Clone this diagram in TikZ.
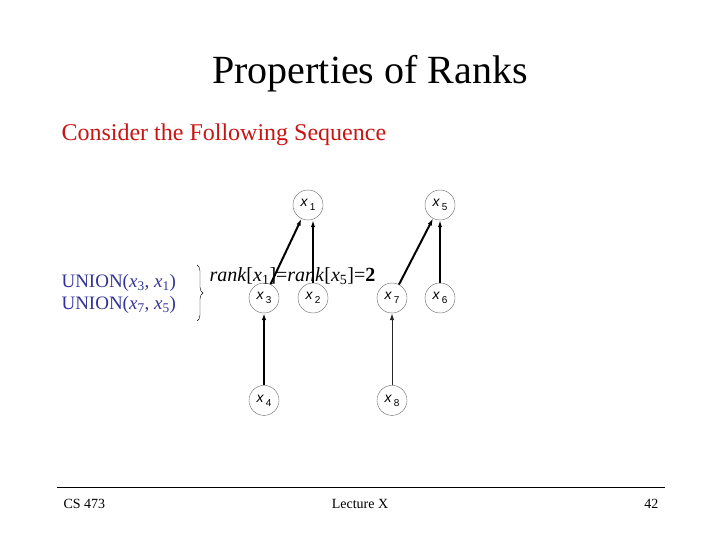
\documentclass[tikz,border=0pt]{standalone}
\usepackage{fontspec}
\setmainfont{Liberation Serif}
\newfontfamily\nodefont{Liberation Sans}
\usetikzlibrary{positioning,arrows.meta,decorations.pathreplacing}

\definecolor{slidered}{RGB}{200,20,20}
\definecolor{slideblue}{RGB}{51,51,153}

% label of a tree node: italic x, lowered index
\newcommand{\xlab}[1]{{\itshape x}\,\raisebox{-4pt}{\fontsize{10}{10}\selectfont #1}}
% x with subscript in running text
\newcommand{\xsub}[1]{\textit{x}\textsubscript{#1}}

\begin{document}
\begin{tikzpicture}[
  x=1pt, y=-1pt,
  >={Latex[length=7pt,width=4.5pt]},
  elem/.style={
    circle, draw=black!60, thin, minimum size=30pt, inner sep=0pt,
    font=\nodefont\fontsize{14}{14}\selectfont
  },
  link/.style={->, line width=2pt, black},
  thinlink/.style={->, line width=1pt, black!85},
  footer/.style={font=\fontsize{14}{14}\selectfont}
]
\useasboundingbox (0,0) rectangle (720,540);

% ---------- heading ----------
\node (title) at (370,74) {\fontsize{40}{40}\selectfont Properties of Ranks};
\node[anchor=west, text=slidered] (intro) at (58,135)
  {\fontsize{24}{24}\selectfont Consider the Following Sequence};

% ---------- sequence of unions ----------
\node[anchor=west, text=slideblue, align=left,
      font=\fontsize{19}{22}\selectfont] (ops) at (58,294)
  {UNION(\xsub{3}, \xsub{1})\\ UNION(\xsub{7}, \xsub{5})};
\draw[thin, decorate, decoration={brace, amplitude=6pt}]
  (197,265) coordinate (bt) -- (197,321) coordinate (bb);
\node[anchor=west] (rank) at (206,276)
  {\fontsize{20}{20}\selectfont \textit{rank}[\xsub{1}]=\textit{rank}[\xsub{5}]=\textbf{2}};

% ---------- the two trees ----------
\node[elem] (x1) at (308,205) {\xlab{1}};
\node[elem] (x5) at (440,205) {\xlab{5}};
\node[elem] (x3) at (264,298) {\xlab{3}};
\node[elem] (x2) at (313,298) {\xlab{2}};
\node[elem] (x7) at (392,298) {\xlab{7}};
\node[elem] (x6) at (440,298) {\xlab{6}};
\node[elem, below=72pt of x3] (x4) {\xlab{4}};
\node[elem, below=72pt of x7] (x8) {\xlab{8}};

\draw[link] (x3) -- (x1);
\draw[link] (x2.north) -- (x2.north |- x1.south);
\draw[link] (x4) -- (x3);
\draw[link] (x7) -- (x5);
\draw[link] (x6) -- (x5);
\draw[thinlink] (x8) -- (x7);

% ---------- footer ----------
\coordinate (fl) at (57,487);
\coordinate (fr) at (665,487);
\draw[line width=0.8pt] (fl) -- (fr);
\node[footer, anchor=west] (course) at (60,504) {CS 473};
\node[footer] (lecture) at (360,504) {Lecture X};
\node[footer, anchor=east] (page) at (662,504) {42};
\end{tikzpicture}
\end{document}
